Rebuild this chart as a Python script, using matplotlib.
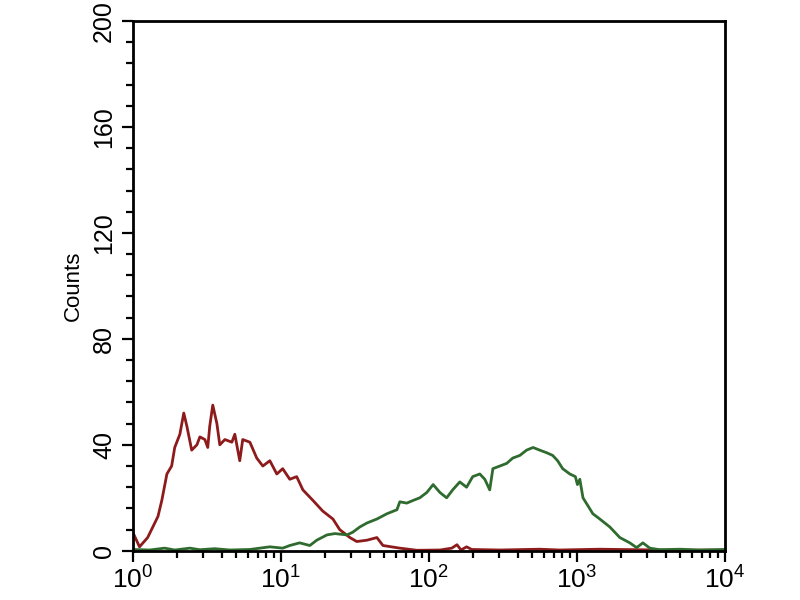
import numpy as np
import matplotlib
matplotlib.use("Agg")
import matplotlib.pyplot as plt
from matplotlib.ticker import LogLocator, MultipleLocator, FixedLocator

plt.rcParams['font.family'] = ['Liberation Sans', 'DejaVu Sans']
plt.rcParams['mathtext.fontset'] = 'custom'
plt.rcParams['mathtext.rm'] = 'Liberation Sans'
plt.rcParams['mathtext.it'] = 'Liberation Sans'

# =============================
# data
# =============================
red_x = [1.0, 1.11, 1.26, 1.48, 1.57, 1.70, 1.83, 1.92, 2.08, 2.21, 2.32, 2.50,
         2.71, 2.84, 3.07, 3.21, 3.31, 3.47, 3.70, 3.87, 4.19, 4.67, 4.89, 5.28,
         5.53, 6.18, 6.88, 7.56, 8.43, 9.40, 10.3, 11.5, 12.8, 14.1, 16.5, 19.2,
         22.5, 25.0, 29.3, 32.6, 38.2, 44.6, 49.0, 63.7, 83.0, 119, 143, 155,
         165, 180, 195, 302, 562, 768, 1430, 2665, 4965, 10000]
red_counts = [7, 1.5, 5, 13, 19, 29, 32, 39, 44, 52, 47, 38,
              40, 43, 42, 39, 47, 55, 48, 40, 42, 41, 44, 34,
              42, 41, 35, 32, 34, 29, 31, 27, 28, 23, 19, 15,
              12, 8, 5, 3.5, 4, 5, 2, 1, 0.2, 0.3, 1, 2.3,
              0.3, 1.5, 0.5, 0.3, 0.6, 0.3, 0.6, 0.4, 0.2, 0.3]

green_x = [1.0, 1.30, 1.64, 1.92, 2.43, 2.84, 3.58, 4.52, 6.18, 8.43, 10.3, 11.5,
           13.4, 15.7, 17.5, 20.5, 23.2, 28.0, 30.6, 34.2, 38.2, 44.6, 52.2, 60.9,
           63.7, 71.0, 78.2, 86.9, 96.9, 107, 119, 132, 145, 162, 180, 198,
           221, 239, 258, 271, 302, 336, 369, 412, 458, 506, 562, 627,
           687, 742, 803, 897, 978, 1010, 1048, 1101, 1189, 1283, 1430, 1671,
           1953, 2281, 2536, 2796, 3113, 3637, 4965, 6777, 10000]
green_counts = [0.5, 0.3, 1.0, 0.3, 1.0, 0.4, 0.8, 0.3, 0.5, 1.5, 1.0, 2,
                3, 2, 4, 6, 6.5, 6, 7, 9, 10.5, 12, 14, 15.5,
                18.5, 18, 19, 20, 22, 25, 22, 20, 23, 26, 24, 28,
                29, 27, 23, 31, 32, 33, 35, 36, 38, 39, 38, 37,
                36, 34, 31, 29, 28, 25, 27, 20, 17, 14, 12, 9,
                5, 3, 1.2, 3, 1, 0.4, 0.6, 0.3, 0.5]

y_ticks = [0, 40, 80, 120, 160, 200]
x_ticks = [1, 10, 100, 1000, 10000]
x_tick_labels = ['$10^0$', '$10^1$', '$10^2$', '$10^3$', '$10^4$']

# =============================
# plot
# =============================
fig = plt.figure(figsize=(8, 6), dpi=100)
ax = fig.add_axes([0.166, 0.082, 0.74, 0.883])

ax.plot(red_x, red_counts, color='#8e1b1b', linewidth=2)
ax.plot(green_x, green_counts, color='#2f6b2f', linewidth=2)

ax.set_xscale('log')
ax.set_xlim(1, 10000)
ax.set_ylim(0, 200)

ax.xaxis.set_major_locator(FixedLocator(x_ticks))
ax.xaxis.set_minor_locator(LogLocator(base=10, subs=np.arange(2, 10)))
ax.xaxis.set_minor_formatter(plt.NullFormatter())
ax.set_xticklabels(x_tick_labels)

ax.yaxis.set_major_locator(FixedLocator(y_ticks))
ax.yaxis.set_minor_locator(MultipleLocator(8))
ax.set_yticklabels([str(v) for v in y_ticks], rotation=90, va='center')

for s in ax.spines.values():
    s.set_linewidth(2)

ax.tick_params(axis='both', which='major', direction='out', length=8, width=1.6,
               color='black')
ax.tick_params(axis='both', which='minor', direction='out', length=5, width=1.6)
ax.tick_params(axis='y', labelsize=18, pad=4)
ax.tick_params(axis='x', labelsize=19, pad=3)

ax.set_ylabel('Counts', fontsize=16, labelpad=6)

plt.savefig('out.png', dpi=100)
